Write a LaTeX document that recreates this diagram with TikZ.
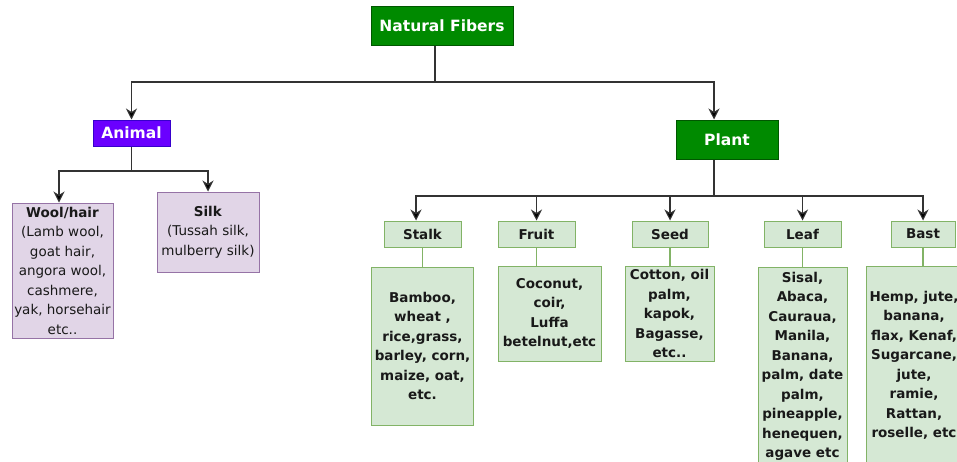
\documentclass[tikz,border=0pt]{standalone}
\usepackage{fontspec}
\setmainfont{DejaVu Sans}
\usepackage{tikz}
\usetikzlibrary{positioning, arrows.meta}
\definecolor{fgreen}{HTML}{008A00}
\definecolor{fgreenline}{HTML}{005700}
\definecolor{fpurple}{HTML}{6A00FF}
\definecolor{fpurpleline}{HTML}{3700CC}
\definecolor{lpurple}{HTML}{E1D5E7}
\definecolor{lpurpleline}{HTML}{9673A6}
\definecolor{lgreen}{HTML}{D5E8D4}
\definecolor{lgreenline}{HTML}{82B366}
\definecolor{linegray}{HTML}{333333}
\tikzset{dbox/.style={draw, line width=1pt, inner sep=0pt, align=center, text=black!90, font=\bfseries\fontsize{13.5}{19.5}\selectfont}}
\tikzset{dtop/.style={dbox, fill=fgreen, draw=fgreenline, text=white, font=\bfseries\fontsize{15.5}{18}\selectfont}}
\tikzset{danimal/.style={dbox, fill=fpurple, draw=fpurpleline, text=white, font=\bfseries\fontsize{15.5}{18}\selectfont}}
\tikzset{dkind/.style={dbox, fill=lpurple, draw=lpurpleline, font=\fontsize{13.5}{19.5}\selectfont}}
\tikzset{dpart/.style={dbox, fill=lgreen, draw=lgreenline}}
\tikzset{arr/.style={draw=linegray, line width=1.1pt, -{Stealth[length=11pt, width=11pt, inset=3.5pt, fill=black]}}}
\tikzset{stem/.style={draw=linegray, line width=1.1pt}}
\tikzset{glink/.style={draw=lgreenline, line width=1.1pt}}

\begin{document}
\begin{tikzpicture}[x=1pt, y=-1pt]
	\path[use as bounding box, clip] (0,0) rectangle (957,461);
	% top level
	\node[dtop, minimum width=142pt, minimum height=39pt] (nf) at (442,25.5) {Natural Fibers};
	\node[danimal, minimum width=77pt, minimum height=26pt] (animal) at (131.5,133) {Animal};
	\node[dtop, minimum width=102pt, minimum height=39pt] (plant) at (727,139.5) {Plant};
	% animal fibers
	\node[dkind, minimum width=101pt, minimum height=135pt] (wool) at (62.5,270.5)
		{\textbf{Wool/hair}\\(Lamb wool,\\goat hair,\\angora wool,\\cashmere,\\yak, horsehair\\etc..};
	\node[dkind, minimum width=102pt, minimum height=80pt] (silk) at (208,232)
		{\textbf{Silk}\\(Tussah silk,\\mulberry silk)};
	% plant fibers
	\node[dpart, minimum width=77pt, minimum height=26pt] (stalk) at (422.5,234) {Stalk};
	\node[dpart, minimum width=77pt, minimum height=26pt] (fruit) at (536.5,234) {Fruit};
	\node[dpart, minimum width=76pt, minimum height=26pt] (seed) at (670,234) {Seed};
	\node[dpart, minimum width=77pt, minimum height=26pt] (leaf) at (802.5,234) {Leaf};
	\node[dpart, minimum width=64pt, minimum height=26pt] (bast) at (923,234) {Bast};
	\node[dpart, minimum width=102pt, minimum height=158pt, below=19pt of stalk] (stalkc)
		{Bamboo,\\wheat ,\\rice,grass,\\barley, corn,\\maize, oat,\\etc.};
	\node[dpart, minimum width=103pt, minimum height=95pt] (fruitc) at (549.5,313.5)
		{Coconut,\\coir,\\Luffa\\betelnut,etc};
	\node[dpart, minimum width=89pt, minimum height=95pt] (seedc) at (669.5,313.5)
		{Cotton, oil\\palm,\\kapok,\\Bagasse,\\etc..};
	\node[dpart, minimum width=89pt, minimum height=199pt, below=19pt of leaf] (leafc)
		{Sisal,\\Abaca,\\Cauraua,\\Manila,\\Banana,\\palm, date\\palm,\\pineapple,\\henequen,\\agave etc};
	\node[dpart, minimum width=96pt, minimum height=199pt] (bastc) at (914,365.5)
		{Hemp, jute,\\banana,\\flax, Kenaf,\\Sugarcane,\\jute,\\ramie,\\Rattan,\\roselle, etc};
	% connectors
	\coordinate (nfj) at (435,82);
	\draw[stem] (nf.south -| nfj) -- (nfj);
	\draw[arr] (nfj) -| (animal);
	\draw[arr] (nfj) -| ([xshift=-13pt]plant.north);
	\coordinate (aj) at (131.5,171);
	\draw[stem] (animal) -- (aj);
	\draw[arr] (aj) -| ([xshift=-3.5pt]wool.north);
	\draw[arr] (aj) -| (silk);
	\coordinate (pj) at (714,196);
	\draw[stem] ([xshift=-13pt]plant.south) -- (pj);
	\draw[arr] (pj) -| ([xshift=-6.5pt]stalk.north);
	\foreach \c in {fruit,seed,leaf,bast}
		\draw[arr] (pj) -| (\c);
	\foreach \a/\b in {stalk/stalkc, fruit/fruitc, seed/seedc, leaf/leafc, bast/bastc}
		\draw[glink] (\a) -- (\a |- \b.north);
\end{tikzpicture}
\end{document}
